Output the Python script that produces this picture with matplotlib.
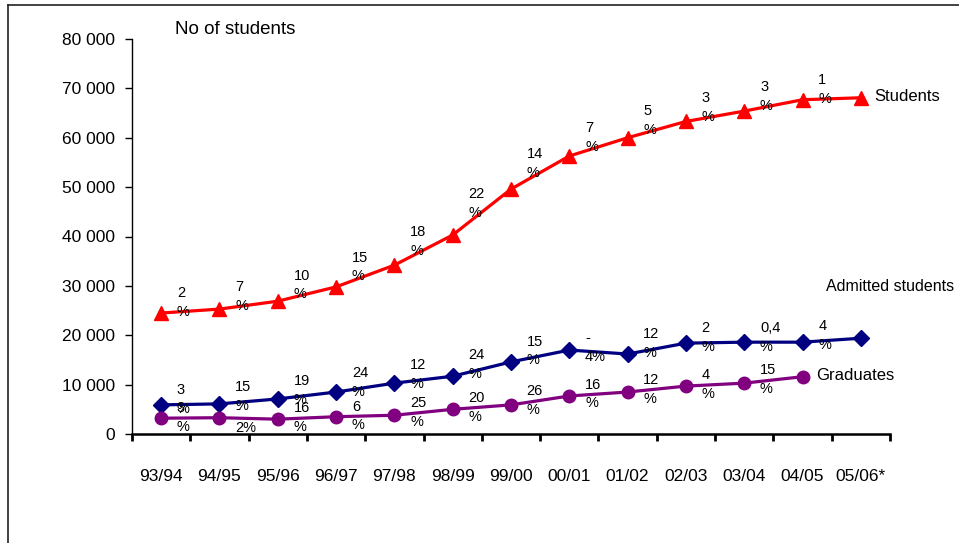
import matplotlib
matplotlib.use('Agg')
import matplotlib.pyplot as plt
from matplotlib import font_manager as fm
from matplotlib.lines import Line2D
import numpy as np

# data
years = ['93/94', '94/95', '95/96', '96/97', '97/98', '98/99', '99/00',
         '00/01', '01/02', '02/03', '03/04', '04/05', '05/06*']
students = [24500, 25300, 26900, 29800, 34200, 40300, 49600,
            56300, 60000, 63300, 65400, 67700, 68100]
admitted = [5900, 6100, 7100, 8500, 10300, 11700, 14600,
            17000, 16200, 18400, 18600, 18600, 19400]
graduates = [3200, 3300, 3000, 3500, 3800, 5000, 5900,
             7700, 8500, 9700, 10300, 11600]
students_pct = ['2\n%', '7\n%', '10\n%', '15\n%', '18\n%', '22\n%',
                '14\n%', '7\n%', '5\n%', '3\n%', '3\n%', '1\n%']
admitted_pct = ['3\n%', '15\n%', '19\n%', '24\n%', '12\n%', '24\n%',
                '15\n%', '-\n4%', '12\n%', '2\n%', '0,4\n%', '4\n%']
graduates_pct = ['3\n%', '-\n2%', '16\n%', '6\n%', '25\n%', '20\n%',
                 '26\n%', '16\n%', '12\n%', '4\n%', '15\n%']

names = {f.name for f in fm.fontManager.ttflist}
fam = 'Liberation Sans Narrow' if 'Liberation Sans Narrow' in names else 'Liberation Sans'
plt.rcParams['font.family'] = [fam, 'DejaVu Sans']

W, H = 959, 543
fig = plt.figure(figsize=(W / 100, H / 100), dpi=100)

# outer frame (cut off at right and bottom)
fig.add_artist(Line2D([8 / W, 1], [1 - 5 / H, 1 - 5 / H], color='#222222', lw=1.2))
fig.add_artist(Line2D([8 / W, 8 / W], [0, 1 - 5 / H], color='#222222', lw=1.2))

ax = fig.add_axes([132 / W, 1 - 434 / H, 758 / W, 395 / H])
x = np.arange(len(years))

ax.plot(x, students, color='#ff0000', lw=2.3, marker='^', ms=10, zorder=3)
ax.plot(x, admitted, color='#000080', lw=2.3, marker='D', ms=8.5, zorder=3)
ax.plot(np.arange(len(graduates)), graduates, color='#800080', lw=2.3,
        marker='o', ms=9, zorder=3)

def pct_labels(vals, labels, dy_px):
    for i, t in enumerate(labels):
        mid = (vals[i] + vals[i + 1]) / 2
        ax.annotate(t, xy=(i + 0.27, mid), xytext=(0, dy_px * 0.72),
                    textcoords='offset points', ha='left', va='center',
                    fontsize=10.5, linespacing=1.45, zorder=4)

pct_labels(students, students_pct, 9)
pct_labels(admitted, admitted_pct, 5)
pct_labels(graduates, graduates_pct, 0)

ax.annotate('Students', xy=(x[-1], students[-1]), xytext=(13 * 0.72, 1 * 0.72),
            textcoords='offset points', ha='left', va='center', fontsize=12)
ax.annotate('Admitted students', xy=(x[-1], admitted[-1]), xytext=(-35 * 0.72, 52 * 0.72),
            textcoords='offset points', ha='left', va='center', fontsize=11.5)
ax.annotate('Graduates', xy=(len(graduates) - 1, graduates[-1]), xytext=(14 * 0.72, 1 * 0.72),
            textcoords='offset points', ha='left', va='center', fontsize=12)

fig.text(175 / W, 1 - 30 / H, 'No of students', ha='left', va='center', fontsize=13.5)

ax.set_xlim(-0.5, len(years) - 0.5)
ax.set_ylim(0, 80000)
ax.set_yticks(range(0, 80001, 10000))
ax.set_yticklabels([f'{v:,}'.replace(',', ' ') for v in range(0, 80001, 10000)])
ax.set_xticks(x)
ax.set_xticklabels(years)
ax.set_xticks(np.arange(-0.5, len(years)), minor=True)
ax.tick_params(axis='x', which='major', length=0, pad=25, labelsize=12.5)
ax.tick_params(axis='x', which='minor', length=5, width=2, direction='out')
ax.tick_params(axis='y', length=5, width=1, pad=7, labelsize=12.5)

for s in ['top', 'right']:
    ax.spines[s].set_visible(False)
ax.spines['bottom'].set_linewidth(1.8)
ax.spines['left'].set_linewidth(1)

fig.savefig('out.png', dpi=100)
